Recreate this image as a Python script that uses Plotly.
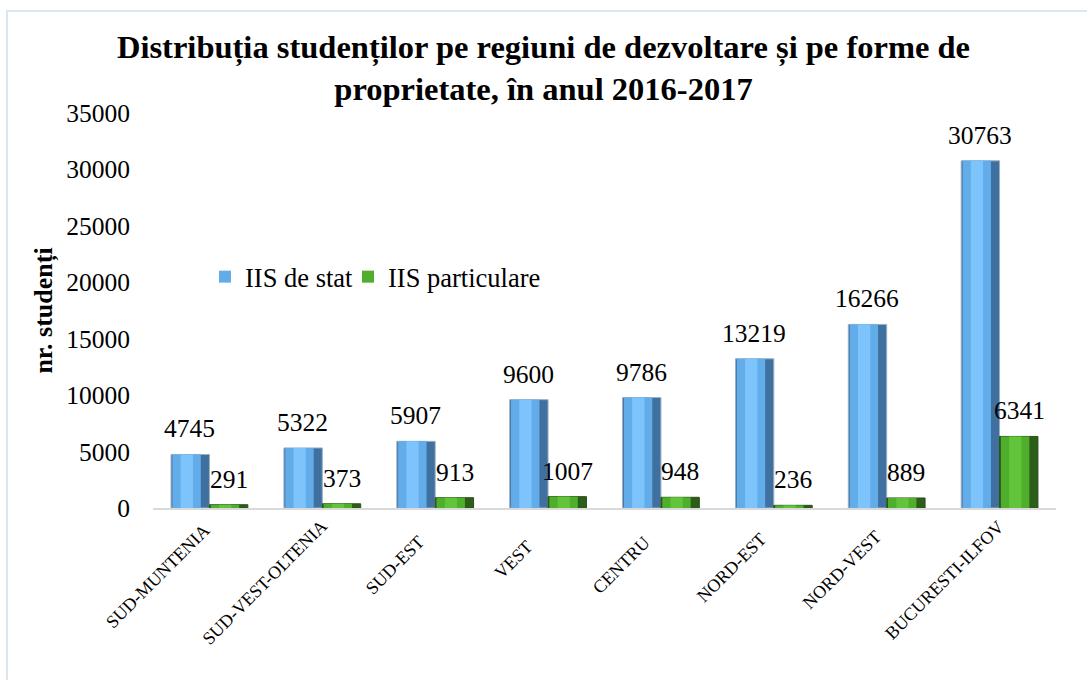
import plotly.graph_objects as go

regions = ["SUD-MUNTENIA", "SUD-VEST-OLTENIA", "SUD-EST", "VEST", "CENTRU",
           "NORD-EST", "NORD-VEST", "BUCURESTI-ILFOV"]
iis_stat = [4745, 5322, 5907, 9600, 9786, 13219, 16266, 30763]
iis_particulare = [291, 373, 913, 1007, 948, 236, 889, 6341]
y_ticks = [0, 5000, 10000, 15000, 20000, 25000, 30000, 35000]

FONT = "Liberation Serif"
TICK_SIZE = 18
BW = 0.34  # bar width in category units

# approximate Times advance widths (per 1000 em) to estimate label lengths
CW = {"A": 722, "B": 667, "C": 667, "D": 722, "E": 611, "F": 556, "I": 333, "L": 611,
      "M": 889, "N": 722, "O": 722, "R": 667, "S": 556, "T": 611, "U": 722, "V": 722,
      "-": 333}


def text_len(s):
    return sum(CW.get(c, 650) for c in s) * TICK_SIZE / 1000.0


fig = go.Figure()


def bevel_bar(values, name, legend, off0, base_col, edge_col, main_col, hi_col):
    # dark base (right-hand shading)
    fig.add_trace(go.Bar(x=regions, y=values, name=name, showlegend=False,
                         offset=off0, width=BW, hoverinfo="skip",
                         marker=dict(color=base_col, line=dict(color=edge_col, width=1))))
    # main face (legend entry)
    fig.add_trace(go.Bar(x=regions, y=values, name=name, legend=legend, showlegend=True,
                         offset=off0 + 0.012, width=BW * 0.74,
                         marker=dict(color=main_col, line=dict(width=0))))
    # central highlight
    fig.add_trace(go.Bar(x=regions, y=values, name=name, showlegend=False,
                         offset=off0 + BW * 0.25, width=BW * 0.32, hoverinfo="skip",
                         marker=dict(color=hi_col, line=dict(width=0))))


bevel_bar(iis_stat, "IIS de stat", "legend", -BW,
          "#40709f", "#9ab0c6", "#62acea", "#7cc4fb")
bevel_bar(iis_particulare, "IIS particulare", "legend2", 0.0,
          "#2c5e19", "#2a4f1a", "#4fae2c", "#62c43a")

annotations = []
for r, v in zip(regions, iis_stat):
    annotations.append(dict(x=r, y=v, text=str(v), showarrow=False, xref="x", yref="y",
                            xshift=-19.5, yshift=9, yanchor="bottom",
                            font=dict(family=FONT, size=25.5, color="#000000")))
for r, v in zip(regions, iis_particulare):
    annotations.append(dict(x=r, y=v, text=str(v), showarrow=False, xref="x", yref="y",
                            xshift=19.5, yshift=9, yanchor="bottom",
                            font=dict(family=FONT, size=25.5, color="#000000")))
# rotated category labels (placed like the original spreadsheet chart)
for r in regions:
    L = text_len(r)
    annotations.append(dict(x=r, y=0, text=r, showarrow=False, xref="x", yref="y",
                            textangle=-45, xanchor="center", yanchor="middle",
                            xshift=-27 - 0.177 * L, yshift=-(44 + 0.177 * L),
                            font=dict(family=FONT, size=TICK_SIZE, color="#000000")))

legend_style = dict(orientation="h", y=0.585, xanchor="left", yanchor="middle",
                    font=dict(family=FONT, size=26.5, color="#000000"),
                    bgcolor="rgba(0,0,0,0)", itemwidth=30, visible=True)

fig.update_layout(
    width=1087, height=680,
    margin=dict(l=153, r=31, t=113, b=172),
    paper_bgcolor="white", plot_bgcolor="white",
    barmode="overlay", showlegend=True,
    font=dict(family=FONT, color="#000000"),
    title=dict(
        text="<b>Distribuția studenților pe regiuni de dezvoltare și pe forme de<br>proprietate, în anul 2016-2017</b>",
        x=0.5, xref="container", xanchor="center",
        y=1 - 58 / 680, yref="container", yanchor="middle",
        font=dict(family=FONT, size=32.5, color="#000000"),
    ),
    legend=dict(x=(205 - 153) / 903, **legend_style),
    legend2=dict(x=(348 - 153) / 903, **legend_style),
    xaxis=dict(
        range=[-0.5, len(regions) - 0.5], autorange=False,
        showticklabels=False,
        showline=True, linecolor="#d9d9d9", linewidth=2, showgrid=False,
        ticks="", zeroline=False,
    ),
    yaxis=dict(
        range=[0, 35000], autorange=False, tickvals=y_ticks, ticktext=[str(t) for t in y_ticks],
        tickfont=dict(family=FONT, size=25.5, color="#000000"),
        showgrid=False, zeroline=False, showline=False, ticks="",
        ticklabelstandoff=22,
        title=dict(text="<b>nr. studenți</b>", standoff=6,
                   font=dict(family=FONT, size=26, color="#000000")),
    ),
    annotations=annotations,
    shapes=[dict(type="rect", xref="paper", yref="paper",
                 x0=(7 - 153) / 903, x1=(1100 - 153) / 903,
                 y0=(508 - 700) / 395, y1=(508 - 11) / 395,
                 line=dict(color="#dbe6f3", width=2), fillcolor="rgba(0,0,0,0)",
                 layer="below")],
)

fig.write_html("out.html", config={"displayModeBar": False},
               post_script="document.body.style.margin='0px';")
